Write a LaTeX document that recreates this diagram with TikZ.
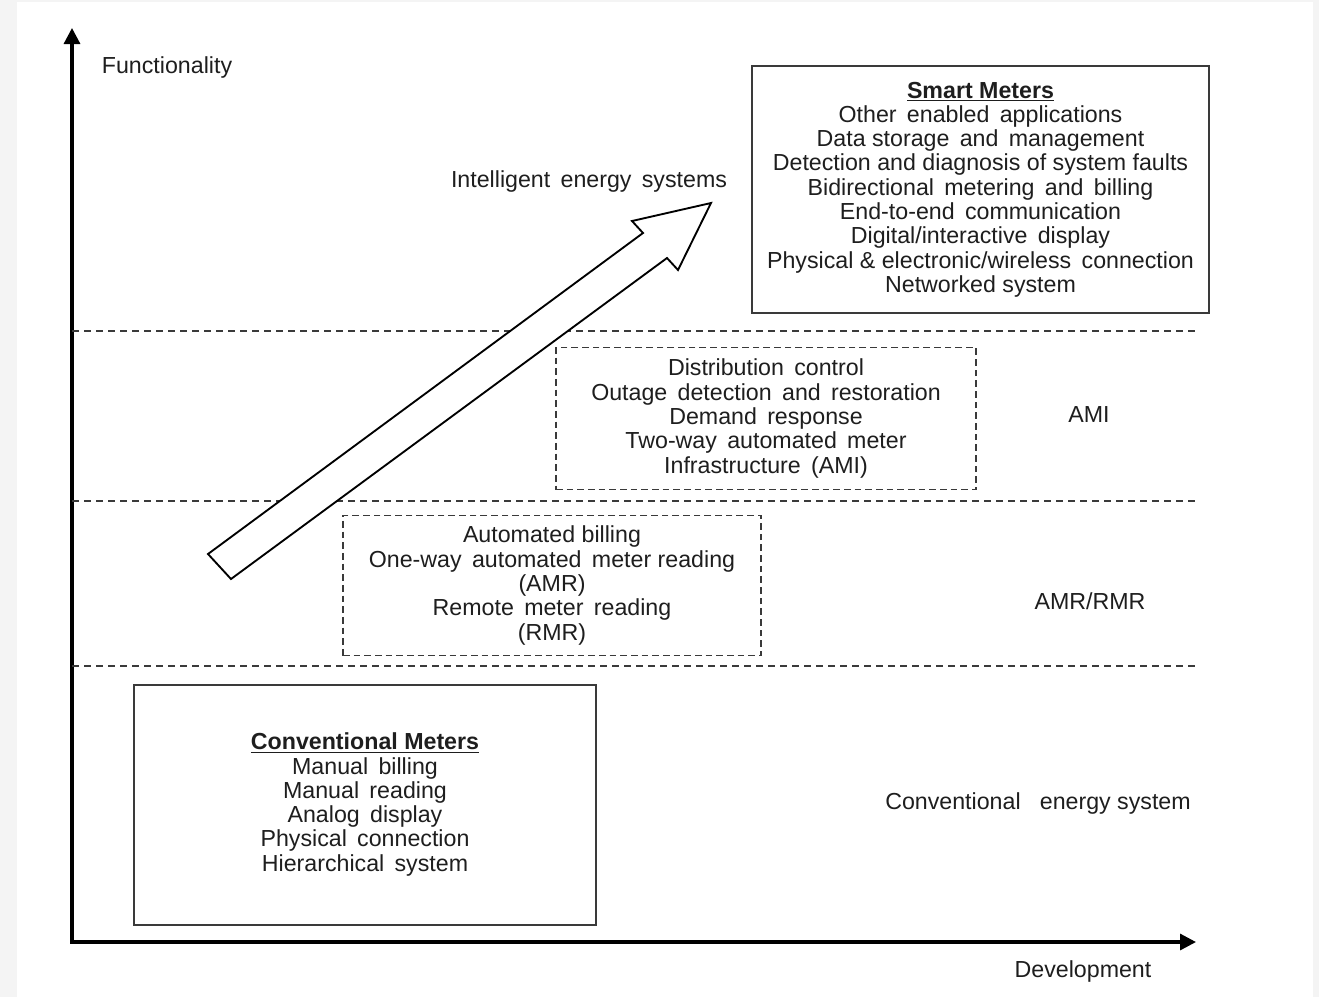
\documentclass[tikz,border=0pt]{standalone}
\usepackage{fontspec}
\setmainfont{Liberation Sans}
\usetikzlibrary{arrows.meta}
\definecolor{frame}{HTML}{F4F4F4}
\definecolor{ink}{HTML}{1E1E1E}
\definecolor{rule}{HTML}{3A3A3A}
\newcommand{\txtfont}{\fontsize{17.4}{18.2}\selectfont}
\begin{document}
\begin{tikzpicture}[x=0.75pt,y=-0.75pt,
  lbl/.style={text=ink,font=\txtfont,inner sep=0pt},
  solidbox/.style={draw=rule,line width=1.5pt,align=center,text=ink,font=\txtfont,inner sep=0pt},
  dashbox/.style={solidbox,line width=1.1pt,dash pattern=on 5pt off 3pt},
  level/.style={draw=rule,line width=1.2pt,dash pattern=on 5.5pt off 3.5pt},
  axis/.style={line width=2.4pt,line join=miter,
    {Triangle[length=12pt,width=12pt]}-{Triangle[length=12pt,width=12pt]}},
  growth/.style={draw=black,line width=1.4pt,fill=white,line join=miter}
]
\useasboundingbox (0,0) rectangle (1319,997);
\fill[frame] (0,0) rectangle (1319,997);
\fill[white] (17,2) rectangle (1313,997);

% axes
\coordinate (origin) at (72,942);
\coordinate (ytop) at (72,28);
\coordinate (xend) at (1196,942);
\draw[axis] (ytop) -- (origin) -- (xend);
\node[lbl] (ylab) at (167,67) {Functionality};
\node[lbl] (xlab) at (1083,971) {Development};

% level separators
\coordinate (l1a) at (72,331);  \coordinate (l1b) at (1196,331);
\coordinate (l2a) at (72,501);  \coordinate (l2b) at (1196,501);
\coordinate (l3a) at (72,666);  \coordinate (l3b) at (1196,666);
\draw[level] (l1a) -- (l1b);
\draw[level] (l2a) -- (l2b);
\draw[level] (l3a) -- (l3b);

% broad growth arrow
\draw[growth] (208,554) -- (231,579) -- (667,258) -- (678,270) -- (711,203)
  -- (632,221) -- (643,233) -- cycle;
\node[lbl] (intel) at (589,181) {Intelligent\, energy\, systems};

% meter generations
\node[solidbox,minimum width=342.75pt,minimum height=185.25pt] (smart) at (980.5,189.5)
  {\underline{\textbf{Smart Meters}}\\
   Other\, enabled\, applications\\
   Data storage\, and\, management\\
   Detection and diagnosis of system faults\\
   Bidirectional\, metering\, and\, billing\\
   End-to-end\, communication\\
   Digital/interactive\, display\\
   Physical \& electronic/wireless\, connection\\
   Networked system};

\node[dashbox,minimum width=315pt,minimum height=106.5pt] (ami) at (766,418.5)
  {Distribution\, control\\
   Outage\, detection\, and\, restoration\\
   Demand\, response\\
   Two-way\, automated\, meter\\
   Infrastructure\, (AMI)};

\node[dashbox,minimum width=313.5pt,minimum height=105pt] (amr) at (552,585.5)
  {Automated billing\\
   One-way\, automated\, meter reading\\
   (AMR)\\
   Remote\, meter\, reading\\
   (RMR)};

\node[solidbox,minimum width=346.5pt,minimum height=180pt] (conv) at (365,804.5)
  {\underline{\textbf{Conventional Meters}}\\
   Manual\, billing\\
   Manual\, reading\\
   Analog\, display\\
   Physical\, connection\\
   Hierarchical\, system};

% level names
\node[lbl] (amilab) at (1089,415) {AMI};
\node[lbl] (amrlab) at (1090,601) {AMR/RMR};
\node[lbl] (convlab) at (1038,803) {Conventional\hspace{0.55em} energy system};
\end{tikzpicture}
\end{document}
